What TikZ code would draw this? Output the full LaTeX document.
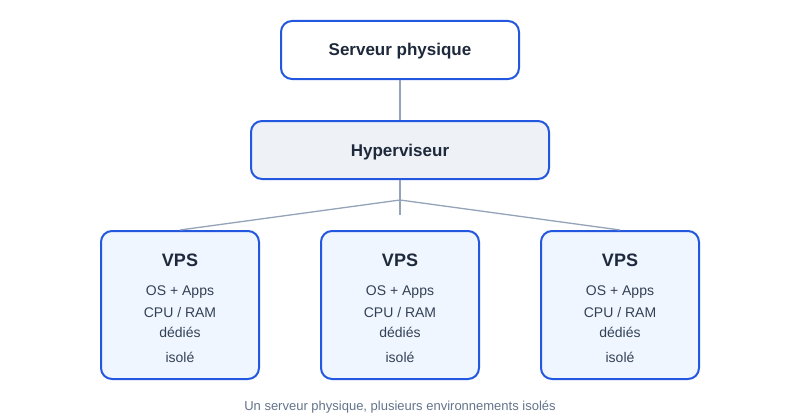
\documentclass[tikz,border=0pt]{standalone}
\usepackage{fontspec}
\setmainfont{Liberation Sans}
\definecolor{bd}{HTML}{2357E0}
\definecolor{ln}{HTML}{94A3B8}
\definecolor{tx}{HTML}{1E293B}
\definecolor{bt}{HTML}{334155}
\definecolor{cap}{HTML}{64748B}
\definecolor{hf}{HTML}{EEF2F7}
\definecolor{vf}{HTML}{EFF6FF}
\begin{document}
\begin{tikzpicture}[x=1pt,y=-1pt,
  box/.style={draw=bd,line width=2pt,rounded corners=11pt,fill=white},
  title/.style={text=tx,font=\fontsize{17}{20}\selectfont\bfseries},
  body/.style={text=bt,font=\fontsize{14}{16}\selectfont},
  conn/.style={draw=ln,line width=1.6pt}]
\useasboundingbox[fill=white] (0,0) rectangle (800,420);
\draw[box] (281,21) rectangle (519,79);
\node[title] (srv) at (400,51) {Serveur physique};
\draw[box,fill=hf] (251,121) rectangle (549,179);
\node[title] (hyp) at (400,152) {Hyperviseur};
\coordinate (s) at (400,80);
\coordinate (h) at (400,120);
\coordinate (hb) at (400,180);
\coordinate (j) at (400,200);
\coordinate (je) at (400,215);
\draw[conn] (s) -- (h);
\draw[conn] (hb) -- (je);
\foreach \i/\cx in {1/180,2/400,3/620}{
  \draw[box,fill=vf] (\cx-79,231) rectangle (\cx+79,379);
  \node[title,font=\fontsize{18}{21}\selectfont\bfseries] (v\i) at (\cx,260) {VPS};
  \node[body] (a\i) at (\cx,292) {OS + Apps};
  \node[body] (b\i) at (\cx,312) {CPU / RAM};
  \node[body] (c\i) at (\cx,332) {dédiés};
  \node[body] (d\i) at (\cx,357) {isolé};
  \coordinate (t\i) at (\cx,230);
}
\draw[conn,line width=1.3pt] (j) -- (t1);
\draw[conn,line width=1.3pt] (j) -- (t3);
\node[text=cap,font=\fontsize{13}{15}\selectfont] (cp) at (400,407) {Un serveur physique, plusieurs environnements isolés};
\end{tikzpicture}
\end{document}
